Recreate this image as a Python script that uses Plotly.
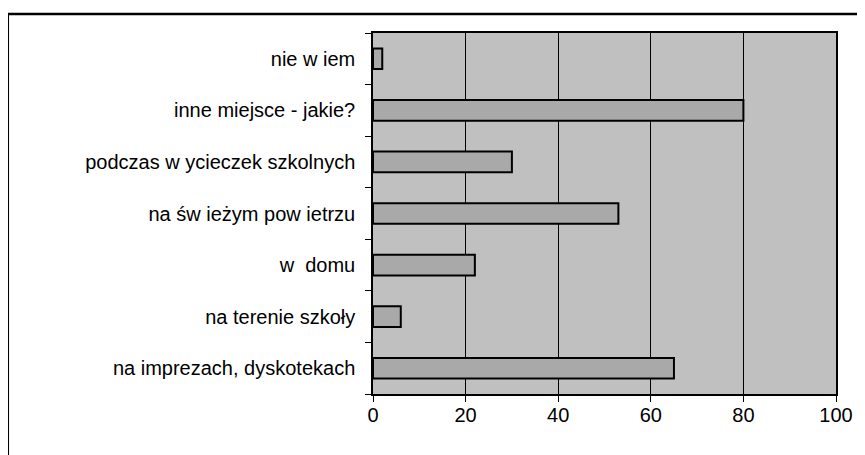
import plotly.graph_objects as go

# bottom-to-top order, as plotly stacks categories upward
categories = [
    "na imprezach, dyskotekach",
    "na terenie szkoły",
    "w  domu",
    "na św ieżym pow ietrzu",
    "podczas w ycieczek szkolnych",
    "inne miejsce - jakie?",
    "nie w iem",
]
values = [65, 6, 22, 53, 30, 80, 2]
x_ticks = [0, 20, 40, 60, 80, 100]

FONT = "Liberation Sans, Arial, sans-serif"

# the html page body has an 8px margin, so the figure is shifted by that
OFF = 8

fig = go.Figure()

fig.add_trace(
    go.Bar(
        x=values,
        y=categories,
        orientation="h",
        marker=dict(color="#a9a9a9", line=dict(color="#000000", width=2)),
        showlegend=False,
    )
)

fig.update_layout(
    width=865 - OFF,
    height=455 - OFF,
    paper_bgcolor="#ffffff",
    plot_bgcolor="#c0c0c0",
    bargap=0.6,
    margin=dict(l=373 - OFF, r=28 - OFF, t=33 - OFF, b=61),
    font=dict(family=FONT, size=20, color="#000000"),
    xaxis=dict(
        range=[0, 100],
        tickvals=x_ticks,
        showgrid=True,
        gridcolor="#000000",
        gridwidth=1,
        zeroline=False,
        showline=True,
        linecolor="#000000",
        linewidth=1.5,
        mirror=True,
        ticks="outside",
        ticklen=6,
        tickcolor="#000000",
        ticklabelstandoff=-4,
        tickfont=dict(family=FONT, size=20, color="#000000"),
    ),
    yaxis=dict(
        type="category",
        categoryorder="array",
        categoryarray=categories,
        range=[-0.5, len(categories) - 0.5],
        showgrid=False,
        zeroline=False,
        showline=True,
        linecolor="#000000",
        linewidth=1.5,
        mirror=True,
        ticks="outside",
        tickson="boundaries",
        ticklen=6,
        tickcolor="#000000",
        ticklabelstandoff=12,
        tickfont=dict(family=FONT, size=20, color="#000000"),
    ),
    shapes=[
        # outer frame of the scanned chart box
        dict(
            type="rect",
            xref="paper",
            yref="paper",
            x0=(7 - 373) / 464,
            x1=(880 - 373) / 464,
            y0=(394 - 470) / 361,
            y1=(394 - 14) / 361,
            line=dict(color="#000000", width=2.5),
            layer="above",
        )
    ],
)

fig.write_html("out.html")
